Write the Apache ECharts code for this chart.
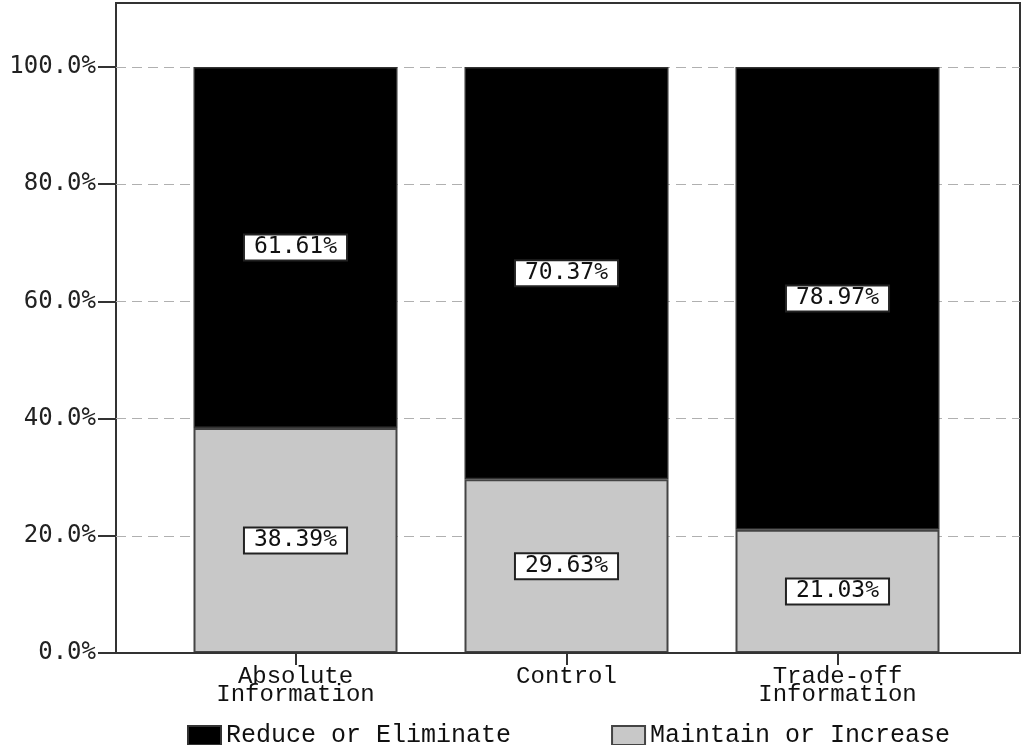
<!DOCTYPE html>
<html>
<head>
    <meta charset="utf-8">
    <title>Reduce vs Maintain</title>
    <script src="https://cdnjs.cloudflare.com/ajax/libs/echarts/6.0.0/echarts.min.js"></script>
    <style>
        html, body { margin: 0; padding: 0; background: #fff; }
        #chart { width: 1024px; height: 745px; }
    </style>
</head>
<body>
    <div id="chart"></div>
    <script>
        var categories = ['Absolute\nInformation', 'Control', 'Trade-off\nInformation'];
        var maintainValues = [38.39, 29.63, 21.03];
        var reduceValues = [61.61, 70.37, 78.97];
        var seriesNames = ['Reduce or Eliminate', 'Maintain or Increase'];

        var monoSans = '"DejaVu Sans Mono", monospace';
        var monoSerif = '"Liberation Mono", "Courier New", monospace';

        var labelStyle = {
            show: true,
            position: 'inside',
            formatter: function (p) { return p.value.toFixed(2) + '%'; },
            color: '#111',
            fontFamily: monoSans,
            fontSize: 23,
            lineHeight: 24,
            backgroundColor: '#fff',
            borderColor: '#222',
            borderWidth: 2,
            padding: [0, 9]
        };

        var chart = echarts.init(document.getElementById('chart'));
        chart.setOption({
            animation: false,
            legend: {
                data: seriesNames,
                left: 187,
                top: 723,
                padding: 0,
                icon: 'rect',
                itemWidth: 33,
                itemHeight: 19,
                itemGap: 100,
                textStyle: { fontFamily: monoSerif, fontSize: 25, color: '#111' }
            },
            grid: [
                // bars
                { left: 160, right: 51, top: 67, bottom: 92 },
                // frame
                { left: 116, right: 4, top: 3, bottom: 92, show: true, borderColor: '#333', borderWidth: 2 },
                // percent scale
                { left: 116, right: 4, top: 67, bottom: 92 }
            ],
            xAxis: [
                {
                    type: 'category', gridIndex: 0, data: categories,
                    axisLine: { show: false },
                    axisTick: { show: true, alignWithLabel: true, length: 12, lineStyle: { color: '#333', width: 2 } },
                    axisLabel: { margin: 15, fontFamily: monoSerif, fontSize: 24, lineHeight: 18, color: '#111' }
                },
                { type: 'value', gridIndex: 1, show: false },
                {
                    type: 'value', gridIndex: 2, z: 5,
                    axisLine: { show: true, lineStyle: { color: '#333', width: 2 } },
                    axisTick: { show: false },
                    axisLabel: { show: false },
                    splitLine: { show: false }
                }
            ],
            yAxis: [
                { type: 'value', gridIndex: 0, min: 0, max: 100, show: false },
                { type: 'value', gridIndex: 1, min: 0, max: 100, show: false },
                {
                    type: 'value', gridIndex: 2, min: 0, max: 100, interval: 20,
                    axisLine: { show: false },
                    axisTick: { show: true, length: 18, lineStyle: { color: '#333', width: 2 } },
                    axisLabel: {
                        margin: 20, fontFamily: monoSans, fontSize: 24, color: '#222',
                        formatter: function (v) { return v.toFixed(1) + '%'; }
                    },
                    splitLine: { show: true, lineStyle: { color: '#b0b0b0', type: [10, 6], width: 1 } }
                }
            ],
            series: [
                {
                    name: 'Maintain or Increase', type: 'bar', stack: 'all',
                    xAxisIndex: 0, yAxisIndex: 0, barWidth: 204,
                    data: maintainValues,
                    itemStyle: { color: '#c8c8c8', borderColor: '#444', borderWidth: 2 },
                    label: labelStyle
                },
                {
                    name: 'Reduce or Eliminate', type: 'bar', stack: 'all',
                    xAxisIndex: 0, yAxisIndex: 0, barWidth: 204,
                    data: reduceValues,
                    itemStyle: { color: '#000', borderColor: '#333', borderWidth: 1.5 },
                    label: labelStyle
                }
            ]
        });
    </script>
</body>
</html>
